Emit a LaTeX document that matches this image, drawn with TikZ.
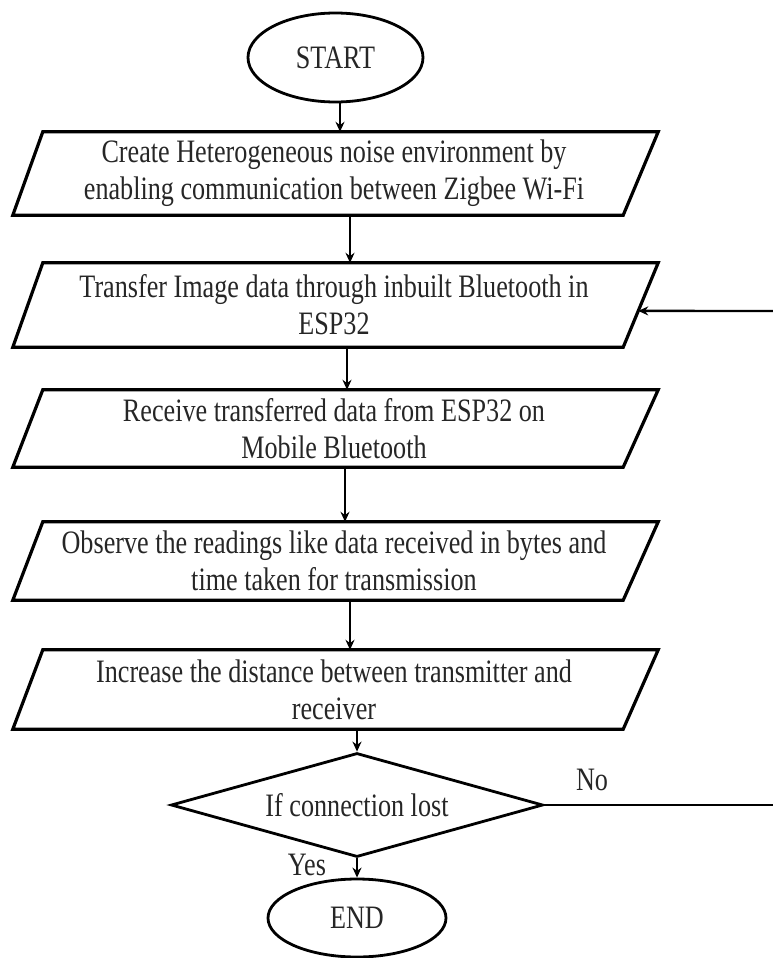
\documentclass[tikz,border=0pt]{standalone}
\usepackage{fontspec}
\setmainfont[FakeStretch=0.8]{Liberation Serif}
\usetikzlibrary{shapes.geometric,arrows.meta,calc}
\begin{document}
\begin{tikzpicture}[x=1pt,y=-1pt,
  every node/.style={font=\fontsize{32.7}{37}\selectfont, text=black!85, inner sep=0pt},
  term/.style={ellipse, draw=black, text=black!85, line width=2.8pt},
  iobox/.style={rectangle, draw=none, minimum width=612pt, align=center},
  dec/.style={diamond, draw=black, line width=2.8pt, aspect=3.58, minimum width=372pt, minimum height=104pt},
  edgeline/.style={line width=3.2pt, draw=black},
  flowline/.style={line width=2.8pt, draw=black},
  arr/.style={line width=2.4pt, draw=black, -{Stealth[length=10pt,width=9pt]}}
]
\useasboundingbox (0,0) rectangle (773,958);

\node[term, minimum width=175pt, minimum height=89pt] (start) at (335.5,57.5) {START};

\node[iobox, minimum height=83pt] (b1) at (334,173.5)
  {Create Heterogeneous noise environment by\\enabling communication between Zigbee Wi-Fi};
\node[iobox, minimum height=84pt] (b2) at (334,305)
  {Transfer Image data through inbuilt Bluetooth in\\ESP32};
\node[iobox, minimum height=77pt] (b3) at (334,428.5)
  {Receive transferred data from ESP32 on\\Mobile Bluetooth};
\node[iobox, minimum height=78pt] (b4) at (334,561)
  {Observe the readings like data received in bytes and\\time taken for transmission};
\node[iobox, minimum height=79pt] (b5) at (334,689.5)
  {Increase the distance between transmitter and\\receiver};

\foreach \n in {b1,b2,b3,b4,b5} {
  \draw[edgeline] ([xshift=15pt]\n.north west) coordinate (\n-nw)
    -- ([xshift=18pt]\n.north east) coordinate (\n-ne)
    -- ([xshift=-17pt]\n.south east) coordinate (\n-se)
    -- ([xshift=-15pt]\n.south west) coordinate (\n-sw) -- cycle;
}

\node[dec] (d) at (357,805) {If connection lost};
\node[term, minimum width=178pt, minimum height=78pt] (end) at (357,918) {END};

\node (yes) at (307,865) {Yes};
\node (no) at (592,780) {No};

\coordinate (rin) at (773,311);
\coordinate (rno) at (773,805);

\draw[arr] ([xshift=4.5pt]start.south) -- ([xshift=6pt]b1.north);
\draw[arr] ([xshift=16pt]b1.south) -- ([xshift=16pt]b2.north);
\draw[arr] ([xshift=13pt]b2.south) -- ([xshift=13pt]b3.north);
\draw[arr] ([xshift=11pt]b3.south) -- ([xshift=11pt]b4.north);
\draw[arr] ([xshift=16pt]b4.south) -- ([xshift=16pt]b5.north);
\draw[arr] ([xshift=23pt]b5.south) -- (d.north);
\draw[arr] (d.south) -- (end.north);
\draw[flowline] (d.east) -- (rno);
\draw[arr] (rin) -- ($(b2-ne)!0.57!(b2-se)$);
\end{tikzpicture}
\end{document}
